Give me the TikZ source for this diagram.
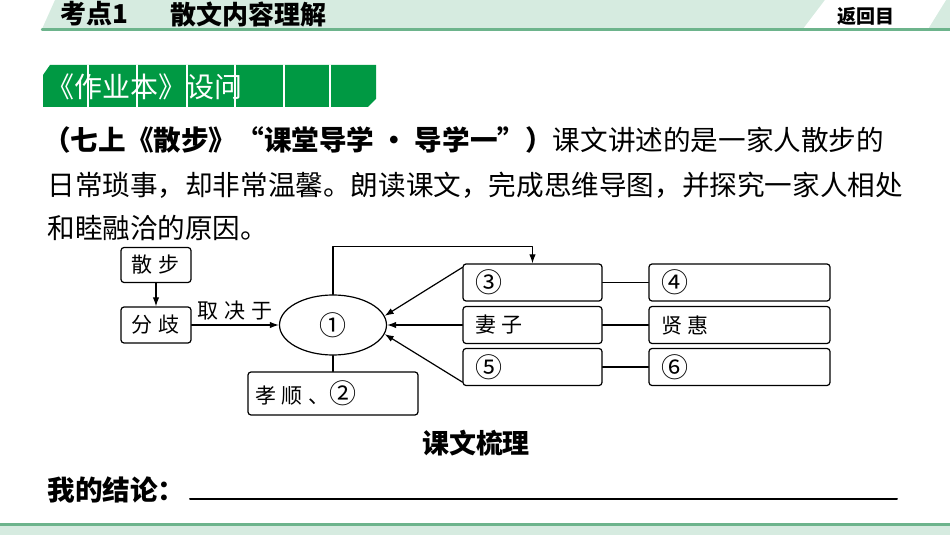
\documentclass[tikz,border=0pt]{standalone}
\usepackage{fontspec}
\setmainfont{Noto Sans CJK SC}
\usetikzlibrary{arrows.meta,shapes.geometric}
\definecolor{bandgreen}{HTML}{D6EBE0}
\definecolor{rulegreen}{HTML}{6DB48C}
\definecolor{taggreen}{HTML}{009943}
\newcommand{\zgap}{\hspace{3pt}}
\newcommand{\circnum}[1]{{\fontsize{13.5}{12}\selectfont #1}}
\begin{document}
\begin{tikzpicture}[x=0.5pt, y=-0.5pt, line cap=round, line join=round,
    box/.style={draw, rounded corners=1.5pt, line width=0.6pt, inner sep=0pt, font=\fontsize{10.5}{12}\selectfont},
    leftbox/.style={box, align=left, inner xsep=6pt, minimum height=18.5pt},
    link/.style={line width=0.6pt},
    arr/.style={link, -{Latex[length=4.5pt, width=3.2pt]}},
    para/.style={anchor=west, inner sep=0pt, font=\fontsize{13.8}{16}\selectfont}]
                \useasboundingbox (0,0) rectangle (950,535);

                % header band
                \fill[bandgreen] (55,0) -- (950,0) -- (950,29) -- (42,29) -- cycle;
                \fill[white] (825,0) -- (946,0) -- (928,29) -- (803,29) -- cycle;
                \draw[rulegreen, line width=1.2pt] (42,29.5) -- (950,29.5);
                \node[anchor=west, inner sep=0pt, font=\fontsize{13}{15}\selectfont\bfseries] (kaodian) at (60,14) {考点1};
                \node[anchor=west, inner sep=0pt, font=\fontsize{13}{15}\selectfont\bfseries] (title) at (170,14) {散文内容理解};
                \node[inner sep=0pt, font=\fontsize{9.5}{11}\selectfont\bfseries] (back) at (866,16) {返回目};

                % footer band
                \fill[bandgreen] (0,525.5) rectangle (950,535);
                \draw[rulegreen, line width=1.2pt] (0,524.5) -- (950,524.5);

                % green tag
                \fill[taggreen] (43,75) -- (50,65) -- (376,65) -- (376,99) -- (368,107) -- (43,107) -- cycle;
                \foreach \x in {88,137,187,235,284,330}
                    \draw[white, line width=0.8pt] (\x,65) -- (\x,107);
                \node[anchor=west, inner sep=0pt, text=white, font=\fontsize{14}{16}\selectfont] (tag) at (46,87) {《作业本》设问};

                % question text
                \node[para] (line1) at (43,140) {\textbf{（七上《散步》“课堂导学 · 导学一”）}课文讲述的是一家人散步的};
                \node[para] (line2) at (47,185) {日常琐事，却非常温馨。朗读课文，完成思维导图，并探究一家人相处};
                \node[para] (line3) at (47,228) {和睦融洽的原因。};

                % mind map
                \node[box, minimum width=35pt, minimum height=17.5pt] (sanbu) at (156,265) {散\zgap 步};
                \node[box, minimum width=35pt, minimum height=18pt] (fenqi) at (156,325) {分\zgap 歧};
                \node[draw, ellipse, link, minimum width=53.5pt, minimum height=30pt, inner sep=0pt] (core) at (333,325) {\circnum{①}};
                \node[box, minimum width=85pt, minimum height=21.5pt, text width=78pt, align=left, inner xsep=3.5pt] (xiaoshun) at (333,393.5) {孝\zgap 顺\zgap 、\circnum{②}};

                \node[leftbox, text width=57.5pt] (c3) at (532.5,282.5) {\circnum{③}};
                \node[leftbox, text width=57.5pt] (wife) at (532.5,325) {妻\zgap 子};
                \node[leftbox, text width=57.5pt] (c5) at (532.5,367) {\circnum{⑤}};
                \node[leftbox, text width=78.5pt] (c4) at (739.5,282.5) {\circnum{④}};
                \node[leftbox, text width=78.5pt] (xianhui) at (739.5,325) {贤\zgap 惠};
                \node[leftbox, text width=78.5pt] (c6) at (739.5,367) {\circnum{⑥}};

                \draw[arr] (sanbu) -- (fenqi);
                \draw[arr] (fenqi) -- node[above, inner sep=2pt, font=\fontsize{10.5}{12}\selectfont] (qujue) {取\zgap 决\zgap 于} (core);
                \draw[arr] (core.north) -- ++(0,-48) -| (c3.north);
                \draw[link] (core.south) -- (xiaoshun.north);

                \draw[arr] ([yshift=-2pt]c3.north west) -- (core.10);
                \draw[arr] (wife.west) -- (core.east);
                \draw[arr] ([yshift=2pt]c5.south west) -- (core.-10);

                \draw[link] (c3) -- (c4);
                \draw[link] (wife) -- (xianhui);
                \draw[link] (c5) -- (c6);

                % caption and answer line
                \node[inner sep=0pt, font=\fontsize{13.5}{15}\selectfont\bfseries] (caption) at (476,443) {课文梳理};
                \node[para, font=\fontsize{13.8}{16}\selectfont\bfseries] (jielun) at (47,490) {我的结论：};
                \draw[line width=1pt] (190,499) -- (897,499);

            \end{tikzpicture}
\end{document}
